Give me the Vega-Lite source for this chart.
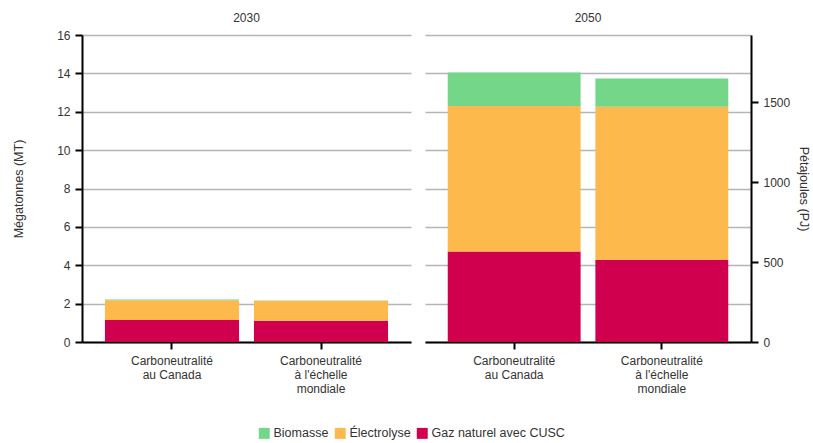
{
  "$schema": "https://vega.github.io/schema/vega-lite/v6.json",
  "padding": {"left": 12, "top": 12, "right": 0, "bottom": 0},
  "autosize": {"type": "pad"},
  "background": "white",
  "config": {
    "font": "Liberation Sans",
    "view": {"stroke": null},
    "axis": {
      "labelFont": "Liberation Sans", "labelFontSize": 12, "labelColor": "#333", "labelLineHeight": 14,
      "titleFont": "Liberation Sans", "titleFontSize": 12.5, "titleFontWeight": "normal", "titleColor": "#333",
      "domainColor": "#000", "domainWidth": 2, "tickColor": "#000", "tickWidth": 2, "tickSize": 7,
      "gridColor": "#b5b5b5", "gridWidth": 1.5, "labelPadding": 5
    },
    "legend": {
      "orient": "bottom", "direction": "horizontal", "symbolType": "square", "symbolSize": 120,
      "symbolStrokeWidth": 0, "labelFont": "Liberation Sans", "labelFontSize": 12.5, "labelColor": "#333",
      "columnPadding": 5, "labelOffset": 3, "offset": 33,
      "layout": {"bottom": {"anchor": "middle"}}
    },
    "title": {"font": "Liberation Sans", "fontSize": 12, "fontWeight": "normal", "color": "#333"}
  },
  "data": {"values": [
    {"year": "2030", "scenario": "Carboneutralité au Canada", "source": "Gaz naturel avec CUSC", "mt": 1.15, "ord": 1},
    {"year": "2030", "scenario": "Carboneutralité au Canada", "source": "Électrolyse", "mt": 1.03, "ord": 2},
    {"year": "2030", "scenario": "Carboneutralité au Canada", "source": "Biomasse", "mt": 0.03, "ord": 3},
    {"year": "2030", "scenario": "Carboneutralité à l'échelle mondiale", "source": "Gaz naturel avec CUSC", "mt": 1.11, "ord": 1},
    {"year": "2030", "scenario": "Carboneutralité à l'échelle mondiale", "source": "Électrolyse", "mt": 1.04, "ord": 2},
    {"year": "2030", "scenario": "Carboneutralité à l'échelle mondiale", "source": "Biomasse", "mt": 0.01, "ord": 3},
    {"year": "2050", "scenario": "Carboneutralité au Canada", "source": "Gaz naturel avec CUSC", "mt": 4.72, "ord": 1},
    {"year": "2050", "scenario": "Carboneutralité au Canada", "source": "Électrolyse", "mt": 7.58, "ord": 2},
    {"year": "2050", "scenario": "Carboneutralité au Canada", "source": "Biomasse", "mt": 1.75, "ord": 3},
    {"year": "2050", "scenario": "Carboneutralité à l'échelle mondiale", "source": "Gaz naturel avec CUSC", "mt": 4.29, "ord": 1},
    {"year": "2050", "scenario": "Carboneutralité à l'échelle mondiale", "source": "Électrolyse", "mt": 7.97, "ord": 2},
    {"year": "2050", "scenario": "Carboneutralité à l'échelle mondiale", "source": "Biomasse", "mt": 1.47, "ord": 3}
  ]},
  "spacing": 14,
  "resolve": {"scale": {"color": "shared"}},
  "hconcat": [
    {
      "transform": [{"filter": "datum.year == '2030'"}],
      "title": {"text": "2030", "frame": "group", "offset": 4},
      "width": 329, "height": 307,
      "mark": {"type": "bar"},
      "encoding": {
        "x": {"field": "scenario", "type": "nominal", "sort": null,
          "scale": {"paddingInner": 0.1, "paddingOuter": 0.154},
          "axis": {"title": null, "labelAngle": 0, "labelPadding": 6,
            "labelExpr": "datum.value == 'Carboneutralité au Canada' ? ['Carboneutralité', 'au Canada'] : ['Carboneutralité', \"à l'échelle\", 'mondiale']"}},
        "y": {"field": "mt", "type": "quantitative", "stack": "zero",
          "scale": {"domain": [0, 16], "nice": false},
          "axis": {"title": "Mégatonnes (MT)", "values": [0, 2, 4, 6, 8, 10, 12, 14, 16], "titlePadding": 31}},
        "color": {"field": "source", "type": "nominal",
          "scale": {"domain": ["Biomasse", "Électrolyse", "Gaz naturel avec CUSC"], "range": ["#74d689", "#fdb94c", "#d1004f"]},
          "legend": {"title": null}},
        "order": {"field": "ord", "type": "quantitative"}
      }
    },
    {
      "transform": [{"filter": "datum.year == '2050'"}],
      "title": {"text": "2050", "frame": "group", "offset": 10},
      "width": 326, "height": 307,
      "resolve": {"scale": {"y": "independent"}, "axis": {"y": "independent"}},
      "layer": [
        {
          "mark": {"type": "bar"},
          "encoding": {
            "x": {"field": "scenario", "type": "nominal", "sort": null,
              "scale": {"paddingInner": 0.1, "paddingOuter": 0.154},
              "axis": {"title": null, "labelAngle": 0, "labelPadding": 6,
                "labelExpr": "datum.value == 'Carboneutralité au Canada' ? ['Carboneutralité', 'au Canada'] : ['Carboneutralité', \"à l'échelle\", 'mondiale']"}},
            "y": {"field": "mt", "type": "quantitative", "stack": "zero",
              "scale": {"domain": [0, 16], "nice": false},
              "axis": {"title": null, "values": [0, 2, 4, 6, 8, 10, 12, 14, 16], "labels": false, "ticks": false, "domain": false}},
            "color": {"field": "source", "type": "nominal",
              "scale": {"domain": ["Biomasse", "Électrolyse", "Gaz naturel avec CUSC"], "range": ["#74d689", "#fdb94c", "#d1004f"]},
              "legend": {"title": null}},
            "order": {"field": "ord", "type": "quantitative"}
          }
        },
        {
          "mark": {"type": "point", "opacity": 0},
          "encoding": {
            "y": {"datum": 0, "type": "quantitative",
              "scale": {"domain": [0, 1920], "nice": false},
              "axis": {"orient": "right", "title": "Pétajoules (PJ)", "values": [0, 500, 1000, 1500], "format": "d", "grid": false, "titlePadding": 7}}
          }
        }
      ]
    }
  ]
}
